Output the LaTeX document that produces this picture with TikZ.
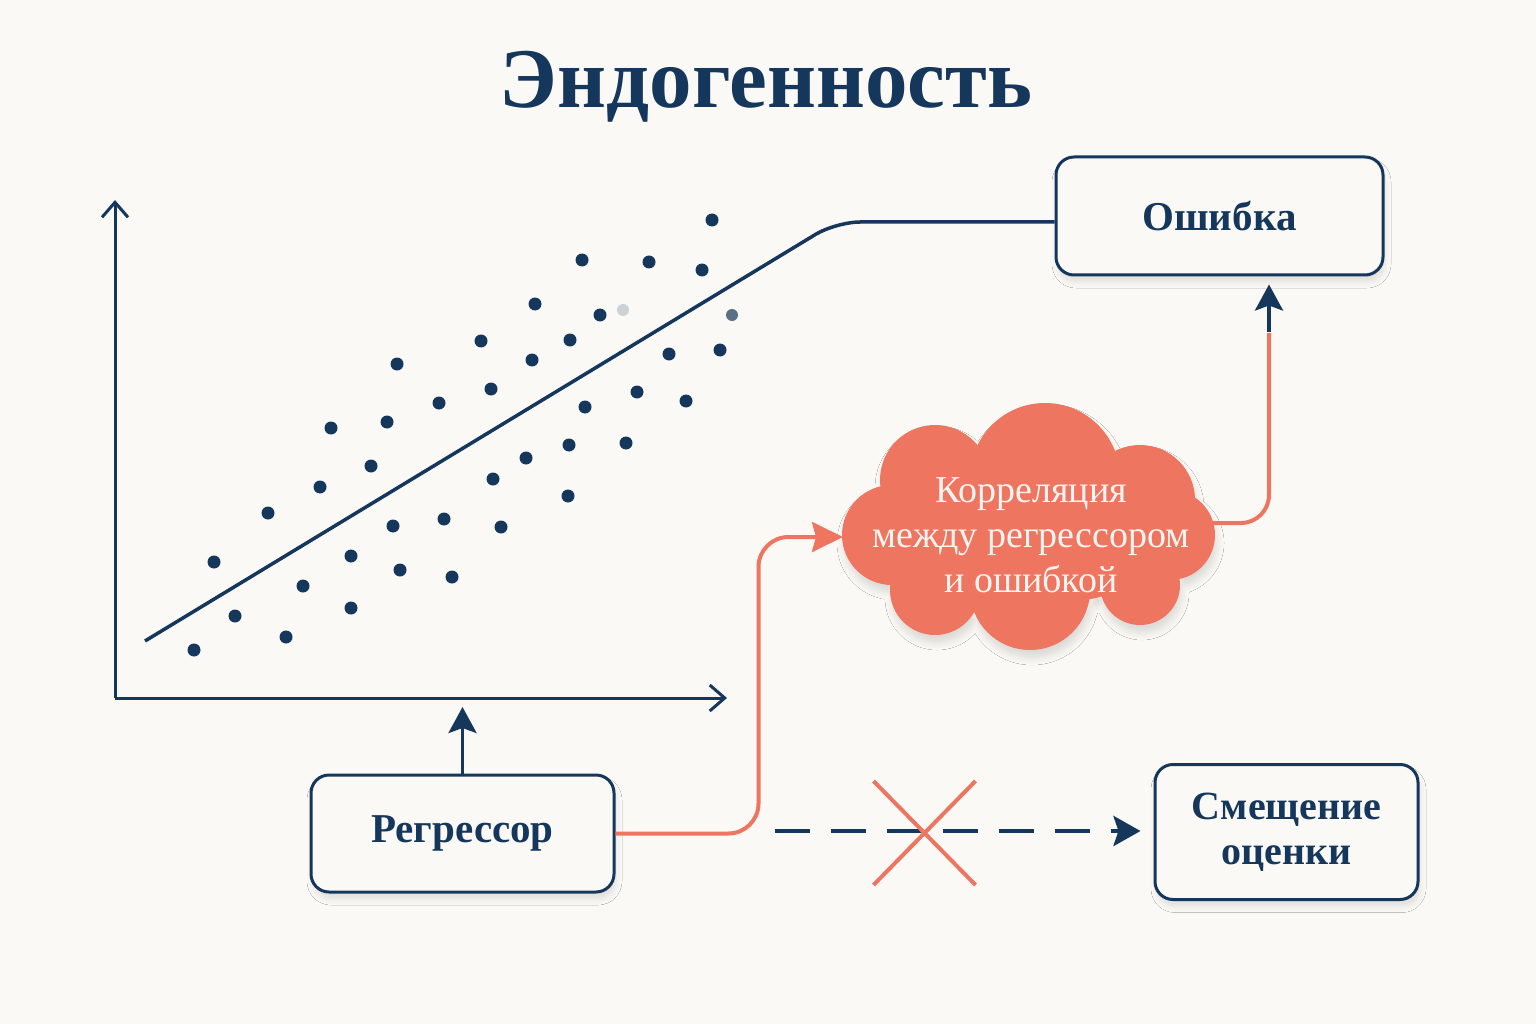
\documentclass[tikz,border=0pt]{standalone}
\usepackage{fontspec}
\setmainfont{Liberation Serif}
\usetikzlibrary{arrows.meta,shadows.blur}
\definecolor{navy}{HTML}{15375C}
\definecolor{coral}{HTML}{EE7560}
\definecolor{paper}{HTML}{FBF9F6}
\definecolor{cloudink}{HTML}{FFF4F0}

\begin{document}
\begin{tikzpicture}[x=1pt,y=-1pt,
    box/.style={draw=navy, line width=3pt, rounded corners=18pt, fill=paper,
      text=navy, align=center, font=\fontsize{41}{44}\selectfont\bfseries,
      blur shadow={shadow xshift=2pt, shadow yshift=-7pt, shadow blur radius=6pt, shadow opacity=10}},
    axis/.style={navy, line width=3pt, -{Straight Barb[length=15pt,width=26pt]}},
    navyarrow/.style={navy, line width=3.5pt, -{Stealth[length=26pt,width=28pt,inset=5pt]}},
    coralline/.style={coral, line width=4pt, rounded corners=30pt}]
    % Paper
    \fill[paper] (0,0) rectangle (1536,1024);
    \useasboundingbox (0,0) rectangle (1536,1024);
    % Title
    \node[anchor=base, text=navy, font=\fontsize{85}{85}\selectfont\bfseries] (title) at (766,108) {Эндогенность};
    % Axes
    \coordinate (origin) at (115,698);
    \draw[axis] (origin) -- (115,200);
    \draw[axis] (origin) -- (727,698);
    % Scatter points
    \foreach \px/\py in {712/220,582/260,649/262,702/270,535/304,600/315,481/341,570/340,
        532/360,669/354,720/350,397/364,491/389,439/403,637/392,686/401,585/407,331/428,
        387/422,569/445,626/443,526/458,371/466,493/479,320/487,568/496,268/513,444/519,
        501/527,393/526,214/562,351/556,400/570,452/577,303/586,235/616,351/608,286/637,194/650}
      \fill[navy] (\px,\py) circle (6.5);
    \fill[navy, opacity=0.2] (623,310) circle (6);
    \fill[navy, opacity=0.7] (732,315) circle (6);
    % Boxes
    \node[box, minimum width=327pt, minimum height=118pt] (err) at (1219.5,216) {Ошибка};
    \node[box, minimum width=303pt, minimum height=117pt] (regr) at (462.5,833.5) {Регрессор};
    \node[box, minimum width=263pt, minimum height=135pt, font=\fontsize{40}{45}\selectfont\bfseries] (bias) at (1286.5,832)
      {Смещение\\оценки};
    % Fitted line running into the error box
    \coordinate (fit-start) at (145,641);
    \coordinate (fit-bend) at (836,222);
    \draw[navy, line width=3.5pt, rounded corners=24pt] (fit-start) -- (fit-bend) -- (fit-bend -| err.west);
    % Cloud
    \fill[coral, blur shadow={shadow xshift=2pt, shadow yshift=-8pt, shadow blur radius=7pt, shadow opacity=12}]
      (935,480) circle (55) (1045,478) circle (75) (1140,500) circle (55)
      (1170,535) circle (45) (1140,585) circle (40) (1030,590) circle (60)
      (935,590) circle (45) (892,535) circle (50) (1030,535) ellipse (150 and 70);
    \node[text=cloudink, align=center, font=\fontsize{38}{45}\selectfont] (corr) at (1031,535)
      {Корреляция\\между регрессором\\и ошибкой};
    \coordinate (corr-in) at (843,537);
    \coordinate (corr-out) at (1213,523);
    \coordinate (turn) at (1269,333);
    % Regressor -> x axis
    \draw[navyarrow, shorten >=9pt] (regr.north) -- (regr.north |- origin);
    % Regressor -> correlation
    \draw[coralline, -{Stealth[length=31pt,width=30pt,inset=4pt]}] (regr.east) -- ++(143,0) |- (corr-in);
    % Correlation -> error
    \draw[coralline, rounded corners=28pt] (corr-out) -| (turn);
    \draw[navyarrow, line width=4pt, shorten >=8pt] ([yshift=1pt]turn) -- (turn |- err.south);
    % Broken link to bias
    \coordinate (dash-start) at (775,831);
    \draw[navy, line width=4.5pt, dash pattern=on 35pt off 21pt, -{Stealth[length=27pt,width=30pt,inset=5pt]}, shorten >=13pt]
      (dash-start) -- (dash-start -| bias.west);
    \coordinate (cross) at (924.5,833);
    \draw[coral, line width=4pt] ($(cross)+(-51,-52)$) -- ($(cross)+(51,52)$)
      ($(cross)+(51,-52)$) -- ($(cross)+(-51,52)$);
\end{tikzpicture}
\end{document}
